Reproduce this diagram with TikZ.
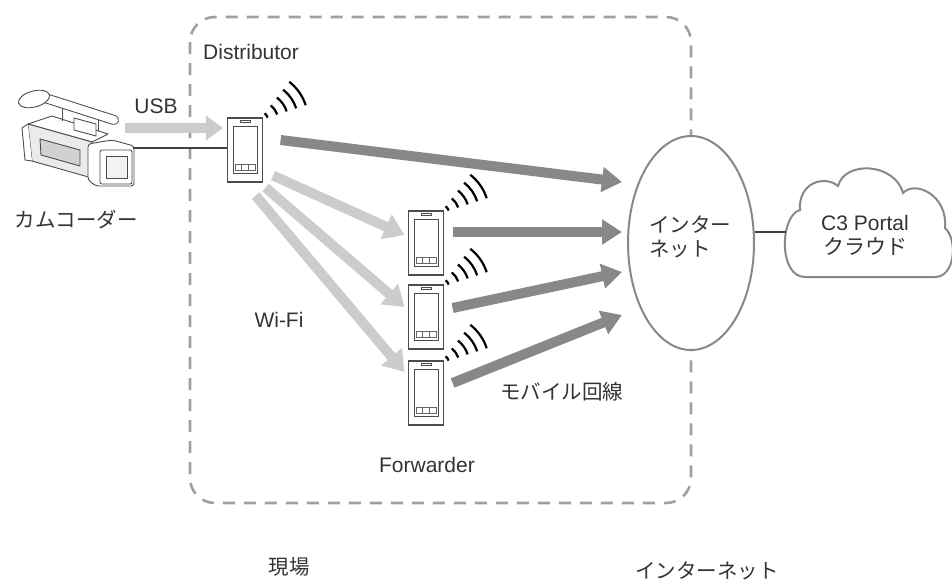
\documentclass[tikz,border=0pt]{standalone}
\usepackage{fontspec}
\setmainfont{Liberation Sans}
\newfontfamily\jp{Noto Sans CJK JP}
\usetikzlibrary{arrows.meta,shapes.geometric,calc}

\definecolor{lightarrow}{HTML}{CCCCCC}
\definecolor{darkarrow}{HTML}{888888}
\definecolor{framegray}{HTML}{A0A0A0}
\definecolor{textgray}{HTML}{333333}

\def \waveWidth {2.2pt}

\tikzset{
  phone/.style={draw=black!70, line width=1.2pt, fill=white, minimum width=35pt, minimum height=64pt, inner sep=0pt},
  usbarrow/.style={draw=lightarrow, line width=10pt, -{Triangle[length=17pt,width=24pt]}},
  wifiarrow/.style={draw=lightarrow, line width=10pt, -{Triangle[length=20pt,width=26pt]}},
  netarrow/.style={draw=darkarrow, line width=10pt, -{Triangle[length=20pt,width=24pt]}},
  wire/.style={draw=black!75, line width=1.3pt},
  cam/.style={draw=black!70, line width=0.9pt, fill=white, line join=round},
  txt/.style={text=textgray, inner sep=0pt, font=\fontsize{21}{24}\selectfont},
  jtxt/.style={text=textgray, inner sep=0pt, font=\jp\fontsize{20.5}{24}\selectfont},
}

\newcommand\phonedetail[1]{%
  \draw[black!70, line width=0.8pt] ($(#1)+(-12,-24)$) rectangle ($(#1)+(12,23)$);
  \draw[black!70, line width=0.8pt] ($(#1)+(-5,-29.5)$) rectangle ($(#1)+(5,-27.5)$);
  \foreach \bx in {-10,-3.3,3.4}
    \draw[black!60, line width=0.7pt] ($(#1)+(\bx,14)$) rectangle ++(6.6,6);
}
\newcommand\wifiwaves[1]{%
  \foreach \r in {9,19,29,39,49}
    \draw[line width=\waveWidth] ($(#1.north east)+(-4,3)+(-52:\r)$) arc[start angle=-52, end angle=-18, radius=\r];
}

\begin{document}
\begin{tikzpicture}[x=1pt, y=-1pt]
  \useasboundingbox (0,0) rectangle (952,584);

  \draw[framegray, line width=2.6pt, dash pattern=on 12pt off 9pt, rounded corners=25pt] (190,17) rectangle (691,503);

  % camcorder
  \filldraw[cam] (28,124) -- (52,116) -- (108,134) -- (92,142) -- cycle;
  \filldraw[cam, fill=black!8] (28,124) -- (92,142) -- (92,178) -- (32,161) -- cycle;
  \draw[cam, fill=black!18] (40,139) -- (80,150) -- (80,166) -- (41,155) -- cycle;
  \draw[cam] (28,124) -- (22,128) -- (25,160) -- (32,161);
  \draw[cam] (62,106) -- (62,121);
  \draw[cam] (98,116) -- (98,131);
  \filldraw[cam] (74,118) -- (96,124) -- (96,136) -- (74,130) -- cycle;
  \draw[black!70, line width=10pt, line cap=round] (42,97) -- (114,120);
  \draw[white, line width=8pt, line cap=round] (42,97) -- (114,120);
  \filldraw[cam] (34,99) ellipse [x radius=16, y radius=8, rotate=15];
  \filldraw[cam, rounded corners=3pt] (88,144) -- (112,140) -- (134,146) -- (134,186) -- (96,186) -- (88,180) -- cycle;
  \filldraw[cam, rounded corners=2pt] (100,150) rectangle (132,184);
  \draw[cam, fill=black!5] (106,156) rectangle (127,178);
  \coordinate (cam-lens) at (133,148);
  \node[jtxt] (cam-label) at (76,220) {カムコーダー};

  % phones
  \node[phone] (dist) at (245,150) {};
  \node[phone] (fwd1) at (426,243) {};
  \node[phone] (fwd2) at (426,317) {};
  \node[phone] (fwd3) at (426,393) {};
  \foreach \p in {dist,fwd1,fwd2,fwd3} {
    \phonedetail{\p}
    \wifiwaves{\p}
  }

  % internet and cloud
  \node[ellipse, draw=darkarrow, line width=2pt, fill=white, minimum width=126pt, minimum height=214pt, inner sep=0pt] (net) at (691,243) {};
  \node[jtxt, align=left] (net-label) at (690,237) {インター\\ネット};
  \filldraw[draw=darkarrow, line width=2pt, fill=white] (805,277) -- (935,277)
    .. controls (955,277) and (958,240) .. (945,228)
    .. controls (948,195) and (915,180) .. (903,193)
    .. controls (895,163) and (845,160) .. (838,186)
    .. controls (825,175) and (798,182) .. (800,210)
    .. controls (780,215) and (778,277) .. (805,277);
  \coordinate (cloud-in) at (786,232);
  \node[txt, align=center] (cloud) at (865,235) {C3 Portal\\{\jp クラウド}};
  \draw[wire] (net.east |- cloud-in) -- (cloud-in);

  % camcorder to distributor
  \draw[usbarrow] (125,128) -- ($(dist.west)+(-4,-22)$);
  \draw[wire] (cam-lens) -- (dist.west |- cam-lens);

  % wi-fi links
  \draw[wifiarrow] ($(dist.south east)+(10,-7)$) -- ($(fwd1.west)+(-3.5,-8)$);
  \draw[wifiarrow] ($(dist.south east)+(2.5,5)$) -- ($(fwd2.west)+(-3.5,-10)$);
  \draw[wifiarrow] ($(dist.south east)+(-7.5,13)$) -- ($(fwd3.west)+(-3.5,-21)$);

  % mobile links
  \coordinate (net-in1) at (622,182);
  \coordinate (net-in2) at (622,232);
  \coordinate (net-in3) at (622,272);
  \coordinate (net-in4) at (622,315);
  \draw[netarrow] ($(dist.east)+(17.5,-10)$) -- (net-in1);
  \draw[netarrow] ($(fwd1.east)+(8.5,-11)$) -- (net-in2);
  \draw[netarrow] ($(fwd2.east)+(8.5,-9)$) -- (net-in3);
  \draw[netarrow] ($(fwd3.east)+(8.5,-10)$) -- (net-in4);

  % labels
  \node[txt, anchor=west] (dist-label) at (203,52) {Distributor};
  \node[txt] (usb-label) at (156,106) {USB};
  \node[txt] (wifi-label) at (279,320) {Wi-Fi};
  \node[jtxt, anchor=west] (mobile-label) at (500,392) {モバイル回線};
  \node[txt] (fwd-label) at (427,465) {Forwarder};
  \node[jtxt] (site-label) at (289,567) {現場};
  \node[jtxt] (inet-label) at (707,571) {インターネット};
\end{tikzpicture}
\end{document}
